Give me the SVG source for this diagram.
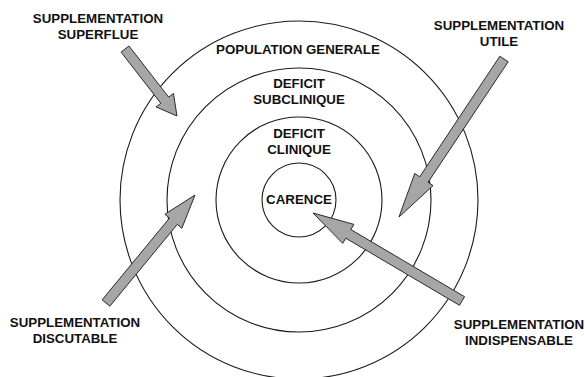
<svg xmlns="http://www.w3.org/2000/svg" width="585" height="377" viewBox="0 0 585 377">
<style>
.ring{fill:none;stroke:#1a1a1a;stroke-width:1.1}
.arrow{fill:#a6a6a6;stroke:#2a2a2a;stroke-width:1;stroke-linejoin:miter}
text{font-family:"Liberation Sans",Arial,Helvetica,sans-serif;font-weight:bold;font-size:13.3px;fill:#111;text-anchor:middle}
</style>
<rect width="585" height="377" fill="#ffffff"/>
<g id="population-generale">
<circle class="ring" cx="299" cy="200" r="179"/>
<text x="298" y="54">POPULATION GENERALE</text>
</g>
<g id="deficit-subclinique">
<circle class="ring" cx="299" cy="200" r="132"/>
<text x="299" y="88">DEFICIT</text>
<text x="299" y="104">SUBCLINIQUE</text>
</g>
<g id="deficit-clinique">
<circle class="ring" cx="299" cy="200" r="83"/>
<text x="299" y="138">DEFICIT</text>
<text x="299" y="154">CLINIQUE</text>
</g>
<g id="carence">
<circle class="ring" cx="299" cy="200" r="37"/>
<text x="299" y="204">CARENCE</text>
</g>
<g id="connectors">
<polygon class="arrow" points="121.05,52.07 160.79,103.27 156.05,106.94 177,116 173.43,93.46 168.69,97.13 128.95,45.93"/>
<polygon class="arrow" points="499.84,56.23 419.75,176.75 414.75,173.43 399,217 433.07,185.61 428.07,182.29 508.16,61.77"/>
<polygon class="arrow" points="109.86,306.18 177.24,224.42 181.87,228.23 195,195 164.89,214.25 169.52,218.06 102.14,299.82"/>
<polygon class="arrow" points="464.54,296.69 350.84,229.54 353.89,224.38 313,213 342.71,243.32 345.76,238.16 459.46,305.31"/>
</g>
<g id="supplementation-superflue">
<text x="98" y="23">SUPPLEMENTATION</text>
<text x="98" y="39">SUPERFLUE</text>
</g>
<g id="supplementation-utile">
<text x="499" y="30">SUPPLEMENTATION</text>
<text x="499" y="46">UTILE</text>
</g>
<g id="supplementation-discutable">
<text x="75" y="327">SUPPLEMENTATION</text>
<text x="75" y="343">DISCUTABLE</text>
</g>
<g id="supplementation-indispensable">
<text x="519" y="329">SUPPLEMENTATION</text>
<text x="519" y="345">INDISPENSABLE</text>
</g>
</svg>
